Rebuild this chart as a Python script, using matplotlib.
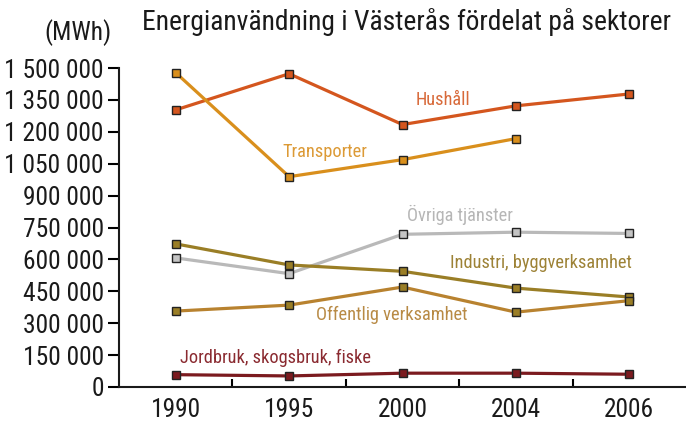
import matplotlib
matplotlib.use("Agg")
import matplotlib.pyplot as plt
from matplotlib import font_manager

years = ["1990", "1995", "2000", "2004", "2006"]
hushall = [1303000, 1473000, 1234000, 1322000, 1378000]
transporter = [1478000, 989000, 1069000, 1168000]
ovriga = [607000, 533000, 718000, 728000, 722000]
industri = [673000, 574000, 544000, 465000, 423000]
offentlig = [357000, 385000, 470000, 352000, 406000]
jordbruk = [58000, 52000, 65000, 65000, 60000]
yticks = [0, 150000, 300000, 450000, 600000, 750000, 900000, 1050000, 1200000, 1350000, 1500000]

names = {f.name for f in font_manager.fontManager.ttflist}
fam = "DejaVu Sans"
for cand in ["Roboto Condensed", "Open Sans Condensed", "Liberation Sans Narrow", "Roboto"]:
    if cand in names:
        fam = cand
        break
plt.rcParams["font.family"] = [fam, "DejaVu Sans"]

fig = plt.figure(figsize=(6.86, 4.22), dpi=100)
renderer = fig.canvas.get_renderer()


def fit_size(s, target_px, base=20):
    t = fig.text(0, 0, s, fontsize=base)
    w = t.get_window_extent(renderer).width
    t.remove()
    return base * target_px / w


tick_fs = fit_size("1 500 000", 100)
title_fs = fit_size("Energianvändning i Västerås fördelat på sektorer", 530)
label_fs = fit_size("Industri, byggverksamhet", 182)

ax = fig.add_axes([119/686, 35/422, 567/686, 319/422])

series = [
    (hushall, "#d4561e", "#d4561e", "Hushåll", (443, 100), "#d86a3a"),
    (transporter, "#d98f1c", "#d98f1c", "Transporter", (325, 152), "#dc9a36"),
    (ovriga, "#b9b9b9", "#c4c4c4", "Övriga tjänster", (460, 215), "#b6b6b6"),
    (industri, "#9a7e26", "#9a7e26", "Industri, byggverksamhet", (541, 263), "#9d8236"),
    (offentlig, "#b8822f", "#9a7e26", "Offentlig verksamhet", (392, 315), "#b88a45"),
    (jordbruk, "#7b1a1f", "#7b1a1f", "Jordbruk, skogsbruk, fiske", (275, 358), "#8a2a30"),
]

for vals, lc, mc, label, (px, py), tc in series:
    x = list(range(len(vals)))
    ax.plot(x, vals, color=lc, lw=2.3, marker="s", markersize=6,
            markerfacecolor=mc, markeredgecolor="#222222", markeredgewidth=1.0,
            clip_on=False, zorder=3)
    fig.text(px/686, 1 - py/422, label, color=tc, fontsize=label_fs, ha="center", va="center")

ax.set_xlim(-0.5, 4.5)
ax.set_ylim(0, 1500000)
ax.set_yticks(yticks)
ax.set_yticklabels([f"{v:,}".replace(",", " ") for v in yticks], fontsize=tick_fs, color="#1a1a1a")
ax.set_xticks([0.5, 1.5, 2.5, 3.5])
ax.set_xticklabels([])
ax.set_xticks(range(len(years)), minor=True)
ax.set_xticklabels(years, minor=True, fontsize=tick_fs, color="#1a1a1a")
ax.tick_params(axis="x", which="major", direction="in", length=6, width=1.5)
ax.tick_params(axis="x", which="minor", length=0, pad=8)
ax.tick_params(axis="y", direction="out", length=8, width=1.5, pad=3)
for s in ["top", "right"]:
    ax.spines[s].set_visible(False)
for s in ["left", "bottom"]:
    ax.spines[s].set_linewidth(1.5)
    ax.spines[s].set_color("#1a1a1a")

fig.text(407/686, 1 - 22/422, "Energianvändning i Västerås fördelat på sektorer",
         fontsize=title_fs, ha="center", va="center", color="#1a1a1a")
fig.text(78/686, 1 - 33/422, "(MWh)", fontsize=tick_fs, ha="center", va="center", color="#1a1a1a")

fig.savefig("out.png", dpi=100)
